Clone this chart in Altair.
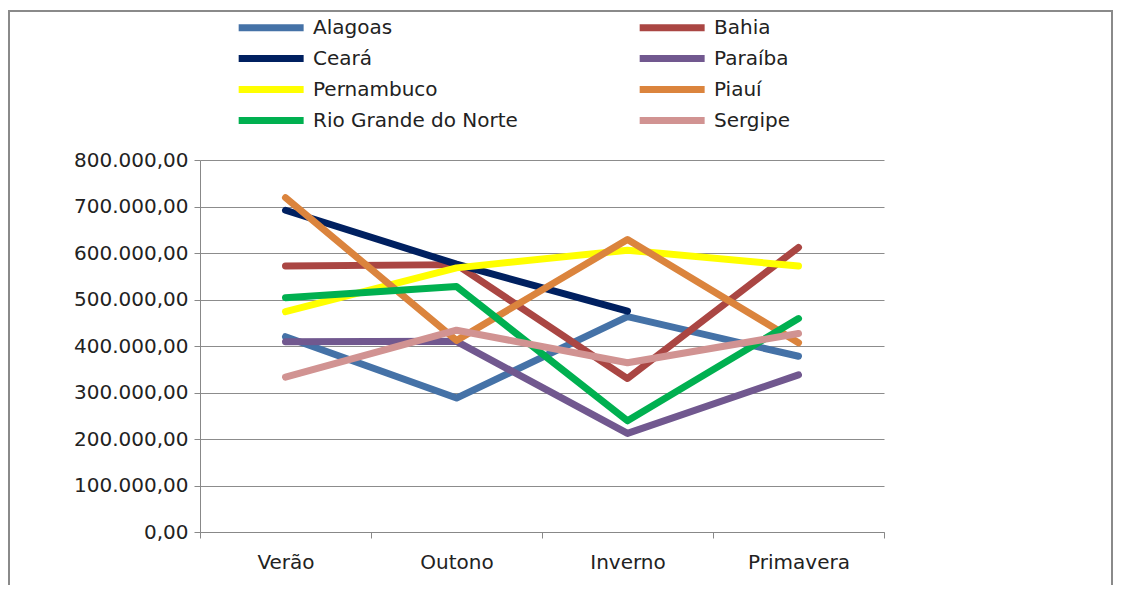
import altair as alt
import pandas as pd

seasons = ["Verão", "Outono", "Inverno", "Primavera"]
states = ["Alagoas", "Bahia", "Ceará", "Paraíba", "Pernambuco", "Piauí",
          "Rio Grande do Norte", "Sergipe"]
colors = ["#4572A7", "#AA4643", "#002060", "#71588F", "#FFFF00", "#DB843D",
          "#00B050", "#D19392"]
# legend fills column by column: left column first, then right column
legend_order = ["Alagoas", "Ceará", "Pernambuco", "Rio Grande do Norte",
                "Bahia", "Paraíba", "Piauí", "Sergipe"]

alagoas = [420000, 288000, 463000, 378000]
bahia = [572000, 575000, 330000, 612000]
ceara = [692000, 576000, 475000, None]
paraiba = [409000, 410000, 212000, 338000]
pernambuco = [474000, 568000, 606000, 572000]
piaui = [719000, 412000, 629000, 407000]
rgn = [504000, 528000, 239000, 459000]
sergipe = [333000, 434000, 364000, 427000]

series = [alagoas, bahia, ceara, paraiba, pernambuco, piaui, rgn, sergipe]
rows = []
for st, vals in zip(states, series):
    for s, v in zip(seasons, vals):
        rows.append({"estado": st, "estacao": s, "valor": v})
df = pd.DataFrame(rows)

color_map = dict(zip(states, colors))
FONT = "DejaVu Sans"

lines = alt.Chart(df).mark_line(strokeWidth=7, strokeCap="round", strokeJoin="round").encode(
    x=alt.X("estacao:N", sort=seasons, scale=alt.Scale(type="band", paddingInner=0, paddingOuter=0),
            axis=alt.Axis(title=None, tickBand="extent", labelAngle=0, labelFont=FONT, labelFontSize=20,
                          labelColor="#222", tickSize=6, tickColor="#888", domainColor="#888",
                          labelPadding=14, grid=False)),
    y=alt.Y("valor:Q", scale=alt.Scale(domain=[0, 800000], nice=False),
            axis=alt.Axis(title=None, values=list(range(0, 800001, 100000)), format=",.2f",
                          labelFont=FONT, labelFontSize=20, labelColor="#222", tickSize=6,
                          tickColor="#888", domainColor="#888", gridColor="#8c8c8c",
                          labelPadding=6, minExtent=187, maxExtent=187)),
    color=alt.Color("estado:N",
                    scale=alt.Scale(domain=legend_order, range=[color_map[s] for s in legend_order]),
                    legend=alt.Legend(orient="none", legendX=35, legendY=-147, columns=2,
                                      symbolType="M-1,0H5", symbolSize=469, symbolStrokeWidth=7,
                                      labelFont=FONT, labelFontSize=20, labelColor="#222",
                                      labelLimit=400, labelOffset=49, columnPadding=107,
                                      rowPadding=2, title=None, padding=0)),
)

frame = alt.Chart(pd.DataFrame({"a": [0]})).mark_rect(fill=None, stroke="#8a8a8a", strokeWidth=2).encode(
    x=alt.value(-191), x2=alt.value(912), y=alt.value(-149), y2=alt.value(440)
)

chart = alt.layer(frame, lines).properties(
    width=684, height=372,
    padding={"left": 192, "top": 152, "right": 229, "bottom": 53},
    autosize=alt.AutoSizeParams(type="none"),
).configure(
    locale={"number": {"decimal": ",", "thousands": ".", "grouping": [3], "currency": ["R$", ""]}}
).configure_view(strokeWidth=0)

chart.save("out.html", embed_options={"renderer": "svg", "actions": False})
